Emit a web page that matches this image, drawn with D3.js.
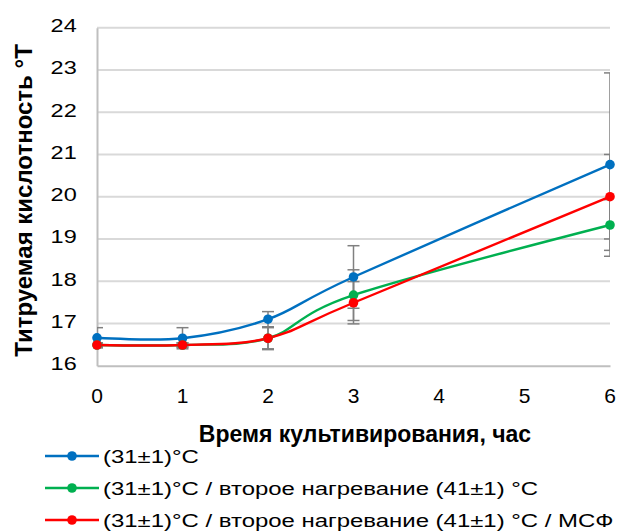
<!DOCTYPE html>
<html lang="ru">
<head>
<meta charset="UTF-8">
<title>Титруемая кислотность</title>
<script src="https://d3js.org/d3.v7.min.js"></script>
<style>
    body {
        margin: 0;
        padding: 0;
        background-color: #ffffff;
    }
    svg {
        display: block;
        font-family: "Liberation Sans", Arial, sans-serif;
    }
    .grid line {
        stroke: #d9d9d9;
        stroke-width: 2;
    }
    .tick-label {
        font-size: 18.5px;
        fill: #000;
    }
    .x-tick-label {
        font-size: 21px;
        fill: #000;
    }
    .axis-title {
        font-size: 23px;
        font-weight: bold;
        fill: #000;
    }
    .legend-label {
        font-size: 18.5px;
        fill: #000;
    }
</style>
</head>
<body>
<svg id="chart" width="618" height="532"></svg>
<script>
// data
const hours = [0, 1, 2, 3, 6];
const xTicks = [0, 1, 2, 3, 4, 5, 6];
const yTicks = [16, 17, 18, 19, 20, 21, 22, 23, 24];

const seriesNames = [
    "(31±1)°C",
    "(31±1)°C / второе нагревание (41±1) °C",
    "(31±1)°C / второе нагревание (41±1) °C / МСФ"
];
const seriesColors = ["#0070c0", "#00b050", "#ff0000"];

const acidity31 = [16.66, 16.65, 17.10, 18.10, 20.76];
const acidity31Err = [0.24, 0.25, 0.18, 0.74, 2.17];
const acidity41 = [16.49, 16.49, 16.65, 17.67, 19.33];
const acidity41Err = [0.05, 0.05, 0.27, 0.60, 0.60];
const acidity41msf = [16.49, 16.49, 16.65, 17.49, 20.00];
const acidity41msfErr = [0.05, 0.05, 0.25, 0.50, 1.00];

const xTitle = "Время культивирования, час";
const yTitle = "Титруемая кислотность °Т";

const series = [
    { values: acidity31, errors: acidity31Err },
    { values: acidity41, errors: acidity41Err },
    { values: acidity41msf, errors: acidity41msfErr }
].map((s, i) => ({
    name: seriesNames[i],
    color: seriesColors[i],
    points: hours.map((h, j) => ({ x: h, y: s.values[j], e: s.errors[j] }))
}));

const svg = d3.select('#chart');
const plot = { left: 97, right: 610, top: 27.7, bottom: 365.7 };
const tickStretch = 1.27;   // the original glyphs are wider than Arial

const x = d3.scaleLinear().domain([0, 6]).range([plot.left, plot.right]);
const y = d3.scaleLinear().domain([16, 24]).range([plot.bottom, plot.top]);

svg.append('rect').attr('width', 618).attr('height', 532).attr('fill', '#fff');

// horizontal gridlines
svg.append('g')
    .attr('class', 'grid')
    .selectAll('line')
    .data(yTicks.slice(1))
    .join('line')
    .attr('x1', plot.left)
    .attr('x2', plot.right)
    .attr('y1', d => y(d))
    .attr('y2', d => y(d));

// axis lines (left + bottom), labels drawn separately
const yAxis = d3.axisLeft(y).tickValues(yTicks).tickSize(0).tickFormat('');
svg.append('g')
    .attr('transform', `translate(${plot.left},0)`)
    .call(yAxis)
    .call(g => g.select('.domain').attr('stroke', '#bfbfbf').attr('stroke-width', 2));
const xAxis = d3.axisBottom(x).tickValues(xTicks).tickSize(0).tickFormat('');
svg.append('g')
    .attr('transform', `translate(0,${y(16)})`)
    .call(xAxis)
    .call(g => g.select('.domain').attr('stroke', '#bfbfbf').attr('stroke-width', 2));

// tick labels
const yLabels = svg.append('g').attr('class', 'y-labels');
yTicks.forEach(v => {
    yLabels.append('g')
        .attr('transform', `translate(76.7,${y(v) + 4.5})`)
        .append('text')
        .attr('class', 'tick-label')
        .attr('text-anchor', 'end')
        .attr('transform', `scale(${tickStretch},1)`)
        .text(String(v));
});

// x labels without the stretch (a scaled "5" went missing)
svg.append('g')
    .attr('class', 'x-labels')
    .selectAll('text')
    .data(xTicks)
    .join('text')
    .attr('class', 'x-tick-label')
    .attr('text-anchor', 'middle')
    .attr('x', d => x(d))
    .attr('y', 403)
    .text(d => String(d));

// axis titles
svg.append('text')
    .attr('class', 'axis-title')
    .attr('text-anchor', 'middle')
    .attr('x', 365)
    .attr('y', 441.5)
    .text(xTitle);

svg.append('text')
    .attr('class', 'axis-title')
    .attr('text-anchor', 'middle')
    .style('font-size', '24px')
    .attr('transform', 'translate(32,200.5) rotate(-90)')
    .text(yTitle);

// error bars, clipped to plot area like Excel
svg.append('clipPath')
    .attr('id', 'plotClip')
    .append('rect')
    .attr('x', plot.left)
    .attr('y', 0)
    .attr('width', plot.right - plot.left)
    .attr('height', 532);

const capHalf = 6;
const errG = svg.append('g').attr('clip-path', 'url(#plotClip)')
    .attr('stroke', '#808080').attr('stroke-width', 1.5).attr('fill', 'none');

series.forEach(s => {
    s.points.forEach(p => {
        const top = y(p.y + p.e), bot = y(p.y - p.e), cx = x(p.x);
        errG.append('line').attr('x1', cx).attr('x2', cx).attr('y1', top).attr('y2', bot);
        errG.append('line').attr('x1', cx - capHalf).attr('x2', cx + capHalf).attr('y1', top).attr('y2', top);
        errG.append('line').attr('x1', cx - capHalf).attr('x2', cx + capHalf).attr('y1', bot).attr('y2', bot);
    });
});

// smoothed lines (Excel style)
const line = d3.line()
    .x(d => x(d.x))
    .y(d => y(d.y))
    .curve(d3.curveCardinal.tension(0));

series.forEach(s => {
    svg.append('path')
        .datum(s.points)
        .attr('fill', 'none')
        .attr('stroke', s.color)
        .attr('stroke-width', 2.4)
        .attr('d', line);
});

series.forEach(s => {
    svg.append('g')
        .selectAll('circle')
        .data(s.points)
        .join('circle')
        .attr('cx', d => x(d.x))
        .attr('cy', d => y(d.y))
        .attr('r', 4.8)
        .attr('fill', s.color);
});

// legend
const legend = svg.append('g');
const legendTexts = [];
series.forEach((s, i) => {
    const ly = 456 + i * 32;
    legend.append('line')
        .attr('x1', 45).attr('x2', 99)
        .attr('y1', ly).attr('y2', ly)
        .attr('stroke', s.color).attr('stroke-width', 2.4);
    legend.append('circle')
        .attr('cx', 72).attr('cy', ly).attr('r', 4.8).attr('fill', s.color);
    legendTexts.push(legend.append('text')
        .attr('class', 'legend-label')
        .datum(ly)
        .text(s.name));
});
// stretch so the longest row ends just inside the right edge, as in the original
const longest = d3.max(legendTexts, t => t.node().getComputedTextLength());
const legendStretch = Math.min(1.31, 511 / longest);
legendTexts.forEach(t => {
    t.attr('transform', d => `translate(103,${d + 6.7}) scale(${legendStretch},1)`);
});
</script>
</body>
</html>
